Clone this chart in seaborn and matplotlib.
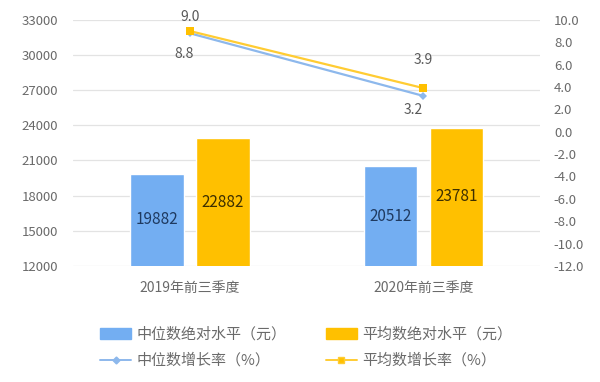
import pandas as pd
import matplotlib.pyplot as plt
import seaborn as sns
from matplotlib.patches import Patch
from matplotlib.lines import Line2D

# 数据
periods = ["2019年前三季度", "2020年前三季度"]
median_level = [19882, 20512]
mean_level = [22882, 23781]
median_growth = [8.8, 3.2]
mean_growth = [9.0, 3.9]

bar_names = ["中位数绝对水平（元）", "平均数绝对水平（元）"]
line_names = ["中位数增长率（%）", "平均数增长率（%）"]

blue_bar = "#73AEF2"
orange_bar = "#FFC000"
blue_line = "#8DB8EC"
orange_line = "#FFCC33"
tick_col = "#6A6A6A"

sns.set_theme(style="white")
plt.rcParams['font.family'] = ['Noto Sans CJK SC', 'DejaVu Sans']

df = pd.DataFrame({
    "period": periods * 2,
    "level": median_level + mean_level,
    "kind": [bar_names[0]] * 2 + [bar_names[1]] * 2,
})

fig = plt.figure(figsize=(6, 3.82), dpi=100)
ax = fig.add_axes([0.122, 0.304, 0.778, 0.644])

sns.barplot(data=df, x="period", y="level", hue="kind",
            palette=[blue_bar, orange_bar], width=0.565, gap=0.19,
            ax=ax, legend=False, saturation=1)
ax.set_ylim(12000, 33000)
ax.set_yticks(range(12000, 33001, 3000))
ax.set_xlim(-0.5, 1.5)
ax.set_xlabel("")
ax.set_ylabel("")
ax.grid(axis="y", color="#E3E3E3", linewidth=0.9)
ax.set_axisbelow(True)
for s in ax.spines.values():
    s.set_visible(False)
ax.tick_params(axis="both", colors=tick_col, labelsize=9.5, length=0, pad=11)
ax.tick_params(axis="x", pad=11, labelsize=10)

# 柱内数字
label_cols = ["#1F3A60", "#3D2F00"]
for cont, col in zip(ax.containers, label_cols):
    ax.bar_label(cont, labels=[f"{int(v)}" for v in cont.datavalues],
                 label_type="center", color=col, fontsize=11, fontweight="medium")

# 增长率折线
ax2 = ax.twinx()
xs = [0, 1]
sns.lineplot(x=xs, y=median_growth, ax=ax2, color=blue_line, marker="D",
             markersize=4, linewidth=1.6, markeredgewidth=0)
sns.lineplot(x=xs, y=mean_growth, ax=ax2, color=orange_line, marker="s",
             markersize=6, linewidth=1.6, markeredgewidth=0,
             markerfacecolor=orange_bar)
ax2.set_ylim(-12, 10)
ax2.set_yticks(range(-12, 11, 2))
ax2.set_yticklabels([f"{v:.1f}" for v in range(-12, 11, 2)])
for s in ax2.spines.values():
    s.set_visible(False)
ax2.tick_params(axis="y", colors=tick_col, labelsize=9.5, length=0, pad=10)
ax2.grid(False)

txt = dict(color="#595959", fontsize=10, ha="center", va="center")
ax2.annotate(f"{mean_growth[0]:.1f}", (0, mean_growth[0]), xytext=(0, 10),
             textcoords="offset points", **txt)
ax2.annotate(f"{median_growth[0]:.1f}", (0, median_growth[0]), xytext=(-4, -15),
             textcoords="offset points", **txt)
ax2.annotate(f"{mean_growth[1]:.1f}", (1, mean_growth[1]), xytext=(0, 20),
             textcoords="offset points", **txt)
ax2.annotate(f"{median_growth[1]:.1f}", (1, median_growth[1]), xytext=(-7, -10),
             textcoords="offset points", **txt)

handles = [
    Patch(color=blue_bar, label=bar_names[0]),
    Line2D([], [], color=blue_line, marker="D", markersize=3.5, lw=1.4, label=line_names[0]),
    Patch(color=orange_bar, label=bar_names[1]),
    Line2D([], [], color=orange_line, marker="s", markersize=4.5, lw=1.4,
           markerfacecolor=orange_bar, label=line_names[1]),
]
fig.legend(handles=handles, ncol=2, frameon=False, loc="center",
           bbox_to_anchor=(0.51, 0.09), fontsize=10.8, labelcolor=tick_col,
           handlelength=2.1, columnspacing=2.6, labelspacing=0.75, handletextpad=0.35)

plt.savefig("out.png", dpi=100)
